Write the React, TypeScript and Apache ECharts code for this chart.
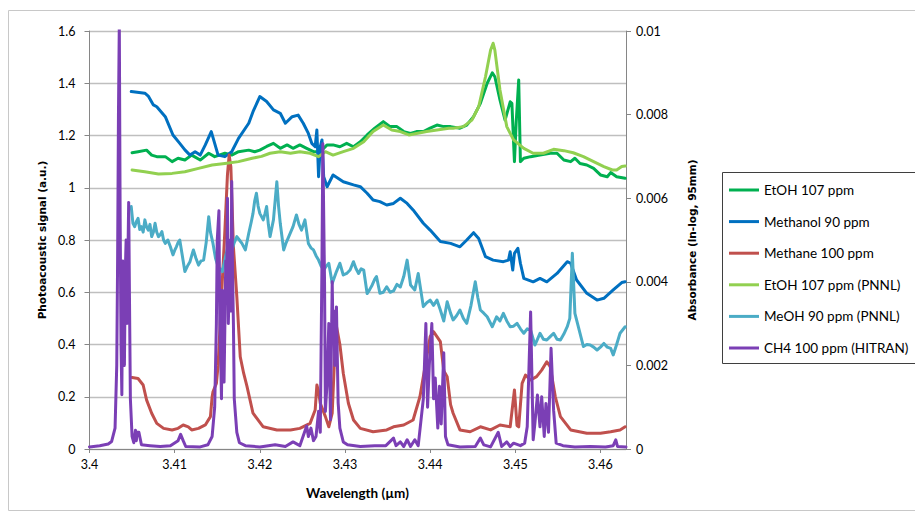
import { useEffect, useRef } from "react";
import * as echarts from "echarts";

// ---- data (wavelength in µm, signal in a.u. / absorbance) ----
const seriesNames = [
  "EtOH 107 ppm",
  "Methanol 90 ppm",
  "Methane 100 ppm",
  "EtOH 107 ppm (PNNL)",
  "MeOH 90 ppm (PNNL)",
  "CH4 100 ppm (HITRAN)",
];
const seriesColors = ["#00B050", "#0070C0", "#C0504D", "#92D050", "#4BACC6", "#7B3FB5"];

const etoh: [number, number][] = [
  [3.405, 1.134], [3.4057, 1.138], [3.4067, 1.144], [3.4073, 1.125], [3.4079, 1.119], [3.4089, 1.119],
  [3.4097, 1.1], [3.4104, 1.113], [3.4112, 1.106], [3.412, 1.125], [3.413, 1.106], [3.414, 1.132],
  [3.4147, 1.119], [3.4159, 1.132], [3.4167, 1.125], [3.4175, 1.138], [3.4187, 1.144], [3.4194, 1.138],
  [3.42, 1.144], [3.4208, 1.158], [3.4216, 1.17], [3.4224, 1.151], [3.4232, 1.164], [3.4239, 1.151],
  [3.4247, 1.164], [3.4255, 1.151], [3.4263, 1.138], [3.4271, 1.138], [3.4279, 1.164], [3.4286, 1.164],
  [3.4294, 1.157], [3.4302, 1.17], [3.431, 1.157], [3.4318, 1.176], [3.4326, 1.202], [3.4335, 1.228],
  [3.4345, 1.253], [3.4353, 1.234], [3.4361, 1.234], [3.4369, 1.215], [3.4377, 1.208], [3.4384, 1.215],
  [3.4392, 1.215], [3.44, 1.228], [3.4408, 1.24], [3.4416, 1.234], [3.4424, 1.234], [3.4435, 1.228],
  [3.4443, 1.24], [3.4451, 1.272], [3.4459, 1.323], [3.4467, 1.4], [3.4473, 1.44], [3.4476, 1.425],
  [3.4482, 1.336], [3.4488, 1.259], [3.4494, 1.329], [3.4496, 1.323], [3.4499, 1.1], [3.4501, 1.247],
  [3.4504, 1.412], [3.4506, 1.1], [3.451, 1.113], [3.4518, 1.119], [3.4529, 1.125], [3.4541, 1.132],
  [3.4549, 1.132], [3.4557, 1.106], [3.4565, 1.1], [3.457, 1.113], [3.4576, 1.093], [3.4584, 1.087],
  [3.4592, 1.074], [3.46, 1.049], [3.4608, 1.042], [3.4612, 1.058], [3.4619, 1.042], [3.4629, 1.036],
];

const methanol: [number, number][] = [
  [3.4049, 1.368], [3.4065, 1.362], [3.4069, 1.351], [3.4075, 1.317], [3.4079, 1.31], [3.4089, 1.272],
  [3.4098, 1.202], [3.4106, 1.17], [3.4112, 1.145], [3.4118, 1.125], [3.4124, 1.138], [3.413, 1.125],
  [3.4136, 1.164], [3.4143, 1.215], [3.4147, 1.17], [3.4151, 1.125], [3.4159, 1.119], [3.4167, 1.138],
  [3.4175, 1.189], [3.4187, 1.247], [3.4192, 1.291], [3.42, 1.349], [3.4208, 1.33], [3.4216, 1.298],
  [3.4224, 1.285], [3.423, 1.247], [3.4238, 1.272], [3.4245, 1.278], [3.4251, 1.247], [3.4257, 1.208],
  [3.4261, 1.17], [3.4265, 1.157], [3.4267, 1.221], [3.4269, 1.042], [3.4271, 1.157], [3.4273, 1.183],
  [3.4275, 1.042], [3.4279, 1.004], [3.4286, 1.049], [3.4298, 1.023], [3.431, 1.011], [3.4318, 1.004],
  [3.4326, 0.979], [3.4333, 0.953], [3.4341, 0.947], [3.4349, 0.934], [3.4357, 0.94], [3.4365, 0.96],
  [3.4373, 0.94], [3.438, 0.915], [3.4392, 0.864], [3.44, 0.838], [3.4412, 0.794], [3.4424, 0.787],
  [3.4435, 0.774], [3.4443, 0.8], [3.4451, 0.828], [3.4457, 0.806], [3.4465, 0.736], [3.4474, 0.723],
  [3.4486, 0.717], [3.4492, 0.723], [3.4494, 0.755], [3.4497, 0.685], [3.4499, 0.749], [3.4503, 0.768],
  [3.4506, 0.711], [3.451, 0.653], [3.4521, 0.64], [3.4529, 0.653], [3.4537, 0.64], [3.4549, 0.672],
  [3.4561, 0.717], [3.4565, 0.711], [3.4572, 0.647], [3.4584, 0.596], [3.4596, 0.57], [3.4604, 0.577],
  [3.4615, 0.609], [3.4625, 0.637], [3.4629, 0.64],
];

const methane: [number, number][] = [
  [3.405, 0.274], [3.4057, 0.27], [3.4063, 0.245], [3.4067, 0.188], [3.4073, 0.137], [3.4079, 0.098],
  [3.4087, 0.079], [3.4097, 0.073], [3.4104, 0.079], [3.411, 0.092], [3.4116, 0.085], [3.412, 0.073],
  [3.4128, 0.079], [3.4136, 0.092], [3.4142, 0.124], [3.4144, 0.2], [3.4145, 0.219], [3.4149, 0.251],
  [3.4151, 0.32], [3.4155, 0.583], [3.4159, 0.838], [3.4162, 1.05], [3.4164, 1.125], [3.4166, 1.08],
  [3.4169, 0.774], [3.4173, 0.583], [3.4177, 0.353], [3.4181, 0.29], [3.4185, 0.239], [3.4192, 0.137],
  [3.4204, 0.085], [3.422, 0.073], [3.4236, 0.073], [3.4247, 0.079], [3.4259, 0.098], [3.4265, 0.149],
  [3.4267, 0.245], [3.4269, 0.22], [3.4271, 0.175], [3.4277, 0.124], [3.4281, 0.085], [3.4285, 0.137],
  [3.4288, 0.366], [3.429, 0.47], [3.4294, 0.4], [3.4298, 0.29], [3.4304, 0.175], [3.431, 0.111],
  [3.4318, 0.079], [3.4333, 0.066], [3.4349, 0.073], [3.4357, 0.085], [3.4369, 0.092], [3.438, 0.111],
  [3.4388, 0.2], [3.4394, 0.315], [3.44, 0.43], [3.4404, 0.449], [3.4412, 0.411], [3.4416, 0.3],
  [3.442, 0.277], [3.4424, 0.17], [3.4427, 0.137], [3.4435, 0.073], [3.4447, 0.066], [3.4459, 0.085],
  [3.4471, 0.073], [3.4482, 0.092], [3.4494, 0.085], [3.4499, 0.226], [3.4502, 0.09], [3.4504, 0.085],
  [3.4508, 0.251], [3.4512, 0.283], [3.4518, 0.264], [3.4525, 0.277], [3.4531, 0.302], [3.4537, 0.334],
  [3.4541, 0.315], [3.4547, 0.2], [3.4553, 0.124], [3.4565, 0.073], [3.4584, 0.06], [3.46, 0.06],
  [3.4612, 0.066], [3.4623, 0.073], [3.4629, 0.085],
];

const etohPnnl: [number, number][] = [
  [3.405, 1.068], [3.4065, 1.061], [3.4081, 1.053], [3.4097, 1.055], [3.4112, 1.061], [3.4128, 1.074],
  [3.4144, 1.087], [3.4159, 1.093], [3.4175, 1.1], [3.4191, 1.113], [3.4202, 1.12], [3.4212, 1.132],
  [3.4224, 1.138], [3.4236, 1.132], [3.4247, 1.138], [3.4259, 1.132], [3.4269, 1.119], [3.4277, 1.138],
  [3.4286, 1.125], [3.4298, 1.138], [3.431, 1.151], [3.4322, 1.176], [3.4333, 1.215], [3.4345, 1.24],
  [3.4355, 1.221], [3.4365, 1.215], [3.4375, 1.202], [3.4384, 1.208], [3.4396, 1.215], [3.4408, 1.221],
  [3.4422, 1.228], [3.4427, 1.228], [3.4439, 1.234], [3.4449, 1.259], [3.4457, 1.31], [3.4465, 1.425],
  [3.4471, 1.527], [3.4474, 1.553], [3.4476, 1.527], [3.4482, 1.374], [3.449, 1.234], [3.4498, 1.183],
  [3.451, 1.151], [3.4521, 1.132], [3.4533, 1.132], [3.4545, 1.147], [3.4557, 1.142], [3.4568, 1.134],
  [3.458, 1.119], [3.4592, 1.1], [3.4604, 1.081], [3.4614, 1.068], [3.4619, 1.068], [3.4625, 1.081],
  [3.4629, 1.083],
];

const meohPnnl: [number, number][] = [
  [3.4049, 0.928], [3.4051, 0.864], [3.4053, 0.851], [3.4055, 0.87], [3.4057, 0.883], [3.4059, 0.84],
  [3.4061, 0.851], [3.4063, 0.83], [3.4065, 0.877], [3.4067, 0.85], [3.4069, 0.838], [3.4071, 0.86],
  [3.4073, 0.813], [3.4075, 0.83], [3.4077, 0.864], [3.4079, 0.83], [3.4081, 0.813], [3.4083, 0.82],
  [3.4085, 0.832], [3.4087, 0.8], [3.4089, 0.787], [3.4092, 0.8], [3.4095, 0.774], [3.4098, 0.743],
  [3.41, 0.76], [3.4102, 0.774], [3.4104, 0.79], [3.4106, 0.8], [3.4108, 0.76], [3.411, 0.72],
  [3.4112, 0.679], [3.4115, 0.7], [3.4118, 0.717], [3.412, 0.74], [3.4122, 0.762], [3.4125, 0.73],
  [3.4128, 0.704], [3.4131, 0.72], [3.4134, 0.723], [3.4137, 0.79], [3.414, 0.889], [3.4142, 0.83],
  [3.4145, 0.787], [3.4148, 0.73], [3.4151, 0.698], [3.4156, 0.679], [3.416, 0.74], [3.4163, 0.781],
  [3.4167, 0.76], [3.417, 0.79], [3.4173, 0.813], [3.4176, 0.8], [3.4179, 0.787], [3.4183, 0.762],
  [3.4187, 0.826], [3.419, 0.87], [3.4192, 0.902], [3.4194, 0.95], [3.4196, 0.979], [3.4198, 0.93],
  [3.42, 0.902], [3.4204, 0.877], [3.4206, 0.9], [3.4208, 0.928], [3.421, 0.86], [3.4212, 0.813],
  [3.4216, 0.877], [3.422, 1.023], [3.4222, 0.93], [3.4224, 0.864], [3.4228, 0.762], [3.4231, 0.79],
  [3.4234, 0.813], [3.4239, 0.851], [3.4243, 0.896], [3.4246, 0.86], [3.4249, 0.838], [3.4253, 0.877],
  [3.4257, 0.787], [3.426, 0.77], [3.4263, 0.762], [3.4266, 0.74], [3.4269, 0.723], [3.4272, 0.7],
  [3.4275, 0.685], [3.4278, 0.7], [3.4281, 0.711], [3.4285, 0.634], [3.429, 0.679], [3.4294, 0.711],
  [3.4298, 0.666], [3.4302, 0.672], [3.4306, 0.685], [3.431, 0.717], [3.4313, 0.69], [3.4316, 0.672],
  [3.4319, 0.69], [3.4322, 0.685], [3.4326, 0.595], [3.4329, 0.61], [3.4332, 0.628], [3.4335, 0.65],
  [3.4337, 0.66], [3.4341, 0.596], [3.4345, 0.6], [3.4349, 0.621], [3.4353, 0.6], [3.4357, 0.605],
  [3.4361, 0.63], [3.4365, 0.62], [3.4369, 0.66], [3.4373, 0.723], [3.4377, 0.628], [3.4382, 0.609],
  [3.4386, 0.672], [3.4392, 0.545], [3.4396, 0.56], [3.44, 0.57], [3.4404, 0.55], [3.4408, 0.57],
  [3.4412, 0.532], [3.4416, 0.49], [3.442, 0.564], [3.4424, 0.52], [3.4427, 0.494], [3.4431, 0.51],
  [3.4435, 0.532], [3.4439, 0.5], [3.4443, 0.481], [3.4448, 0.55], [3.4453, 0.64], [3.4456, 0.58],
  [3.4459, 0.532], [3.4463, 0.52], [3.4467, 0.506], [3.4473, 0.468], [3.4478, 0.506], [3.4482, 0.49],
  [3.4486, 0.519], [3.449, 0.49], [3.4494, 0.468], [3.4498, 0.47], [3.4502, 0.481], [3.4506, 0.46],
  [3.451, 0.443], [3.4514, 0.46], [3.4518, 0.455], [3.4523, 0.398], [3.4526, 0.42], [3.4529, 0.443],
  [3.4533, 0.42], [3.4537, 0.417], [3.4541, 0.43], [3.4545, 0.443], [3.4549, 0.42], [3.4553, 0.417],
  [3.4557, 0.44], [3.4561, 0.468], [3.4564, 0.5], [3.4567, 0.749], [3.457, 0.519], [3.4574, 0.468],
  [3.458, 0.392], [3.4584, 0.4], [3.4588, 0.398], [3.4592, 0.39], [3.4596, 0.379], [3.46, 0.39],
  [3.4604, 0.404], [3.4608, 0.39], [3.4612, 0.385], [3.4615, 0.36], [3.4619, 0.4], [3.4623, 0.443],
  [3.4629, 0.468],
];

const ch4Hitran: [number, number][] = [
  [3.4, 0.00005], [3.4012, 0.00008], [3.4022, 0.00012], [3.4026, 0.00018], [3.403, 0.0005], [3.4032, 0.002],
  [3.4033, 0.0045], [3.4034, 0.008], [3.4035, 0.0102], [3.4036, 0.0055], [3.4037, 0.0025], [3.4038, 0.0013],
  [3.4039, 0.0045], [3.404, 0.003], [3.4041, 0.002], [3.4042, 0.0042], [3.4043, 0.005], [3.4044, 0.003],
  [3.4045, 0.0044], [3.4046, 0.0059], [3.4047, 0.0035], [3.4048, 0.0012], [3.405, 0.0003], [3.4052, 0.00015],
  [3.4054, 0.00045], [3.4055, 0.0002], [3.4056, 0.0004], [3.4058, 0.0004], [3.4061, 0.0001],
  [3.4071, 0.00008], [3.4083, 0.00006], [3.4095, 0.00008], [3.4104, 0.0002], [3.4107, 0.00035], [3.411, 0.0002],
  [3.4113, 0.00006], [3.413, 0.00005], [3.4139, 0.0001], [3.4144, 0.0003], [3.4147, 0.001], [3.4149, 0.003],
  [3.415, 0.005], [3.4152, 0.0057], [3.4153, 0.003], [3.4154, 0.0022], [3.4155, 0.0012], [3.4156, 0.0038],
  [3.4157, 0.0026], [3.4158, 0.0016], [3.4159, 0.003], [3.416, 0.0045], [3.4161, 0.0035], [3.4162, 0.006],
  [3.4163, 0.003], [3.4164, 0.0038], [3.4165, 0.005], [3.4166, 0.0033], [3.4167, 0.0064], [3.4168, 0.0042],
  [3.4169, 0.003], [3.417, 0.0012], [3.4173, 0.0004], [3.4176, 0.00015], [3.4183, 0.00008], [3.42, 0.00005],
  [3.4218, 0.0001], [3.423, 0.00006], [3.4239, 0.00017], [3.4247, 0.00008], [3.4255, 0.00055], [3.4257, 0.0003],
  [3.426, 0.0005], [3.4263, 0.0002], [3.4266, 0.0003], [3.4269, 0.0009], [3.4271, 0.0004], [3.4273, 0.0045],
  [3.4274, 0.0073], [3.4276, 0.004], [3.4277, 0.0009], [3.4279, 0.0016], [3.4281, 0.003], [3.4282, 0.0018],
  [3.4283, 0.0007], [3.4285, 0.004], [3.4286, 0.0027], [3.4287, 0.0033], [3.4288, 0.002], [3.429, 0.0034],
  [3.4291, 0.0022], [3.4292, 0.0011], [3.4294, 0.0005], [3.4298, 0.00017], [3.4303, 0.0001], [3.4318, 0.00006],
  [3.4335, 0.00008], [3.4348, 0.00008], [3.4357, 0.00026], [3.436, 0.00008], [3.4365, 0.00017], [3.4369, 0.00006],
  [3.4373, 0.00022], [3.4377, 0.00006], [3.4382, 0.00022], [3.4386, 0.00008], [3.4388, 0.00045], [3.4392, 0.0012],
  [3.4395, 0.003], [3.4397, 0.001], [3.4399, 0.002], [3.4402, 0.003], [3.4404, 0.0012], [3.4406, 0.0017],
  [3.4409, 0.0005], [3.4411, 0.0015], [3.4413, 0.0006], [3.4416, 0.0023], [3.4418, 0.0003], [3.4421, 0.0001],
  [3.4435, 0.00005], [3.4453, 0.00006], [3.4459, 0.00026], [3.4463, 0.0001], [3.4471, 0.00005], [3.448, 0.0004],
  [3.4484, 0.00006], [3.449, 0.00017], [3.4494, 0.00006], [3.4498, 0.00014], [3.4506, 0.00008], [3.4511, 0.00014],
  [3.4514, 0.00053], [3.4518, 0.00328], [3.4521, 0.00022], [3.4523, 0.00061], [3.4526, 0.00129], [3.4529, 0.00053],
  [3.4531, 0.00125], [3.4534, 0.0003], [3.4536, 0.00109], [3.4539, 0.0004], [3.4542, 0.00241], [3.4545, 0.00093],
  [3.4548, 0.00014], [3.4556, 0.00008], [3.457, 0.00005], [3.4588, 0.00006], [3.4606, 0.00005], [3.4615, 0.00008],
  [3.4618, 0.00022], [3.462, 0.00006], [3.463, 0.00005],
];

const seriesData = [etoh, methanol, methane, etohPnnl, meohPnnl, ch4Hitran];
const seriesAxis = [0, 0, 0, 0, 0, 1];

const xTitle = "Wavelength (µm)";
const yLeftTitle = "Photoacoustic signal (a.u.)";
const yRightTitle = "Absorbance (ln-log, 95mm)";

const X_MIN = 3.4;
const X_MAX = 3.463;
const X_STEP = 0.01;
const YL_MAX = 1.6;
const YL_STEP = 0.2;
const YR_MAX = 0.01;
const YR_STEP = 0.002;

const labelFont = "Lato, 'Open Sans', sans-serif";

export default function App() {
  const ref = useRef<HTMLDivElement>(null);
  useEffect(() => {
    document.body.style.margin = "0";
    const chart = echarts.init(ref.current!, undefined, { renderer: "svg" });
    chart.setOption({
      animation: false,
      backgroundColor: "#ffffff",
      grid: { left: 89.5, top: 31, right: 289, bottom: 66, containLabel: false },
      xAxis: {
        type: "value",
        min: X_MIN,
        max: X_MAX,
        interval: X_STEP,
        axisLine: { show: true, lineStyle: { color: "#868686", width: 1 } },
        axisTick: { show: true, length: 4, lineStyle: { color: "#868686" } },
        splitLine: { show: false },
        axisLabel: {
          showMaxLabel: false,
          color: "#000",
          fontFamily: labelFont,
          fontSize: 12.5,
          margin: 9,
          formatter: (v: number) => {
            const k = v / X_STEP;
            return Math.abs(k - Math.round(k)) < 1e-6 ? String(+v.toFixed(2)) : "";
          },
        },
      },
      yAxis: [
        {
          type: "value",
          min: 0,
          max: YL_MAX,
          interval: YL_STEP,
          axisLine: { show: true, lineStyle: { color: "#868686", width: 1 } },
          axisTick: { show: true, length: 5, lineStyle: { color: "#868686" } },
          splitLine: { show: true, lineStyle: { color: "#bfbfbf", width: 1.3 } },
          axisLabel: { color: "#000", fontFamily: labelFont, fontSize: 12.5, margin: 14 },
        },
        {
          type: "value",
          min: 0,
          max: YR_MAX,
          interval: YR_STEP,
          position: "right",
          axisLine: { show: true, lineStyle: { color: "#868686", width: 1 } },
          axisTick: { show: true, length: 5, lineStyle: { color: "#868686" } },
          splitLine: { show: false },
          axisLabel: { color: "#000", fontFamily: labelFont, fontSize: 12.5, margin: 10 },
        },
      ],
      legend: {
        orient: "vertical",
        left: 729,
        top: 182,
        padding: 0,
        itemGap: 15.6,
        itemWidth: 30,
        itemHeight: 3,
        icon: "rect",
        data: seriesNames,
        textStyle: { color: "#000", fontFamily: labelFont, fontSize: 13.5, lineHeight: 16 },
      },
      graphic: [
        {
          type: "rect",
          shape: { x: 8.5, y: 10.5, width: 940, height: 500 },
          style: { fill: "none", stroke: "#c8c8c8", lineWidth: 1 },
          silent: true,
          z: -10,
        },
        {
          type: "rect",
          shape: { x: 722.5, y: 172.5, width: 300, height: 191 },
          style: { fill: "#fff", stroke: "#3f3f3f", lineWidth: 1 },
          silent: true,
          z: -5,
        },
        {
          type: "text",
          x: 42,
          y: 240,
          rotation: Math.PI / 2,
          style: {
            text: yLeftTitle,
            textAlign: "center",
            textVerticalAlign: "middle",
            fontFamily: "'DejaVu Sans', Verdana, sans-serif",
            fontWeight: "bold",
            fontSize: 10.5,
            fill: "#000",
          },
        },
        {
          type: "text",
          x: 692,
          y: 240,
          rotation: Math.PI / 2,
          style: {
            text: yRightTitle,
            textAlign: "center",
            textVerticalAlign: "middle",
            fontFamily: "'DejaVu Sans', Verdana, sans-serif",
            fontWeight: "bold",
            fontSize: 10.5,
            fill: "#000",
          },
        },
        {
          type: "text",
          x: 357.5,
          y: 493,
          style: {
            text: xTitle,
            textAlign: "center",
            textVerticalAlign: "middle",
            fontFamily: labelFont,
            fontWeight: "bold",
            fontSize: 13.5,
            fill: "#000",
          },
        },
      ],
      series: seriesNames.map((name, i) => ({
        name,
        type: "line",
        yAxisIndex: seriesAxis[i],
        data: seriesData[i],
        showSymbol: false,
        symbol: "none",
        clip: true,
        color: seriesColors[i],
        lineStyle: { color: seriesColors[i], width: 3, join: "round", cap: "round" },
        emphasis: { disabled: true },
      })),
    });
    return () => chart.dispose();
  }, []);
  return <div ref={ref} style={{ width: 915, height: 515 }} />;
}
